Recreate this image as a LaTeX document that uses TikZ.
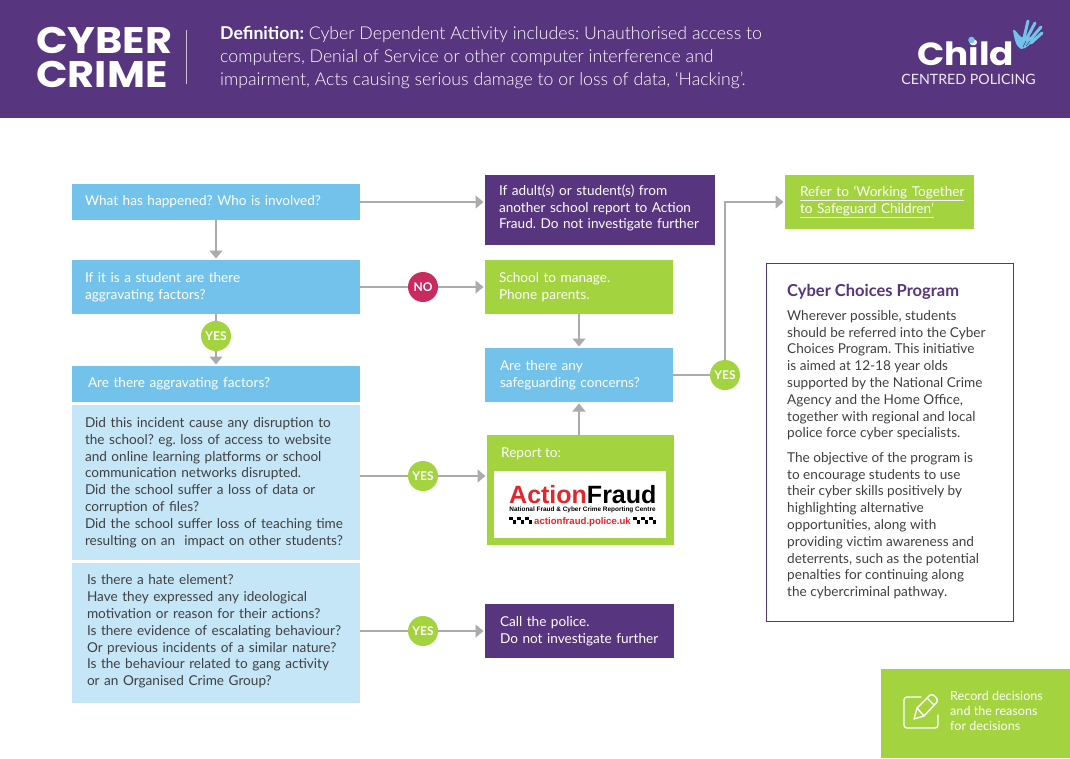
\documentclass[tikz,border=0pt]{standalone}
\usepackage{fontspec}
\setmainfont{Lato}
\newfontfamily\lightfont{Lato Light}
\newfontfamily\headfont[FakeStretch=1.12]{Poppins}
\newfontfamily\fraudfont{Liberation Sans}
\usetikzlibrary{arrows.meta, calc}
\definecolor{cpurple}{HTML}{57357F}
\definecolor{cgreen}{HTML}{A3D33F}
\definecolor{cblue}{HTML}{73C2EC}
\definecolor{cpale}{HTML}{C5E6F7}
\definecolor{cred}{HTML}{C92A5F}
\definecolor{cgrey}{HTML}{ABABAB}
\definecolor{ctext}{HTML}{404040}
\definecolor{cfraud}{HTML}{E1262C}
\tikzset{
	bodyfont/.style={font=\fontsize{13.6}{16.8}\selectfont},
	flowbox/.style n args={3}{anchor=north west, align=left, inner xsep=#3pt, inner ysep=0pt, outer sep=0pt, text width=#1pt-2*#3pt, minimum height=#2pt, bodyfont},
	bluebox/.style n args={3}{flowbox={#1}{#2}{#3}, fill=cblue, text=white},
	palebox/.style n args={3}{flowbox={#1}{#2}{#3}, fill=cpale, text=ctext},
	purplebox/.style n args={3}{flowbox={#1}{#2}{#3}, fill=cpurple, text=white},
	greenbox/.style n args={3}{flowbox={#1}{#2}{#3}, fill=cgreen, text=white},
	answer/.style={circle, minimum size=30pt, inner sep=0pt, text=white, font=\fontsize{12}{12}\selectfont\bfseries},
	flowline/.style={draw=cgrey, line width=1.2pt},
	flowarrow/.style={flowline, -{Triangle[length=8pt, width=13pt]}, shorten >=1.5pt},
}
\begin{document}
\frenchspacing
\begin{tikzpicture}[x=1pt, y=-1pt]
	\useasboundingbox (0,0) rectangle (1070,758);
	\fill[white] (0,0) rectangle (1070,758);
	% header
	\fill[cpurple] (0,0) rectangle (1070,118);
	\node[anchor=base west, inner sep=0pt, text=white, font=\fontsize{37}{37}\selectfont\headfont\bfseries] (titleone) at (36,53) {CYBER};
	\node[anchor=base west, inner sep=0pt, text=white, font=\fontsize{37}{37}\selectfont\headfont\bfseries] (titletwo) at (36,87) {CRIME};
	\draw[white!70!cpurple, line width=0.8pt] (186,30) -- (186,84);
	\node[anchor=north west, align=left, inner sep=0pt, text=white, font=\fontsize{17.7}{23}\selectfont\lightfont] (definition) at (220,26)
		{{\normalfont\bfseries Definition:} Cyber Dependent Activity includes: Unauthorised access to\\computers, Denial of Service or other computer interference and\\impairment, Acts causing serious damage to or loss of data, ‘Hacking’.};
	% logo
	\node[anchor=base west, inner sep=0pt, text=white, font=\fontsize{32}{32}\selectfont\headfont\bfseries] (child) at (917,65) {Child};
	\fill[cblue] (971.5,40) circle[radius=3.3];
	\node[anchor=base, inner sep=0pt, text=white!90!cpurple, font=\fontsize{14.2}{15}\selectfont] (centred) at (968.5,84) {CENTRED POLICING};
	\fill[cblue] (1013,30) .. controls (1016,29) and (1018,35) .. (1021,37) -- (1034,37) .. controls (1032,44) and (1026,49) .. (1021,49) .. controls (1016,47) and (1014,38) .. (1013,30) -- cycle;
	\draw[cblue, line width=3pt, line cap=round] (1024,38) -- (1028,21) (1027,38) -- (1035,23) (1030,40) -- (1041,27) (1031,43) -- (1042,33);
	\draw[cpurple, line width=0.5pt] (1023,47) -- (1026,41) (1026,46) -- (1030,41);
	% left column
	\node[bluebox={288}{36}{13}] (whatbox) at (72,184) {What has happened? Who is involved?};
	\node[bluebox={288}{54}{13}] (aggbox) at (72,260) {If it is a student are there\\aggravating factors?};
	\node[bluebox={288}{36}{16}] (arebox) at (72,366) {Are there aggravating factors?};
	\node[palebox={288}{155}{13}] (disruptbox) at (72,405) {Did this incident cause any disruption to\\the school? eg. loss of access to website\\and online learning platforms or school\\communication networks disrupted.\\Did the school suffer a loss of data or\\corruption of files?\\Did the school suffer loss of teaching time\\resulting on an~~impact on other students?};
	\node[palebox={288}{140}{15}] (hatebox) at (72,563) {Is there a hate element?\\Have they expressed any ideological\\motivation or reason for their actions?\\Is there evidence of escalating behaviour?\\Or previous incidents of a similar nature?\\Is the behaviour related to gang activity\\or an Organised Crime Group?\par\vspace*{3pt}};
	% middle column
	\node[purplebox={230}{70}{14}] (adultbox) at (485,175) {If adult(s) or student(s) from\\another school report to Action\\Fraud. Do not investigate further\par\vspace*{4pt}};
	\node[greenbox={188}{54}{14}] (schoolbox) at (485,260) {School to manage.\\Phone parents.};
	\node[bluebox={188}{54}{15}] (safebox) at (485,348) {Are there any\\safeguarding concerns?};
	\node[greenbox={187}{110}{14}] (reportbox) at (487,435) {};
	\node[anchor=west, inner sep=0pt, text=white, bodyfont] (reportlabel) at (501,454) {Report to:};
	\node[purplebox={189}{54}{15}] (callbox) at (485,604) {Call the police.\\Do not investigate further};
	% action fraud logo
	\fill[white] (494,471) rectangle (666,538);
	\node[anchor=base west, inner sep=0pt, font=\fontsize{25}{26}\selectfont\fraudfont\bfseries] (fraudlogo) at (509,503) {\textcolor{cfraud}{Action}Fraud};
	\node[anchor=base, inner sep=0pt, font=\fontsize{6.45}{7}\selectfont\fraudfont\bfseries] (fraudstrap) at (582.5,511.5) {National Fraud \& Cyber Crime Reporting Centre};
	\node[anchor=base, inner sep=0pt, text=cfraud, font=\fontsize{9.6}{11}\selectfont\fraudfont\bfseries] (fraudurl) at (582.5,524) {actionfraud.police.uk};
	\foreach \ox in {509,633} {
		\foreach \i in {0,1,2} {
			\fill (\ox+\i*8,516.5) rectangle +(3.5,3.5);
			\fill (\ox+3.5+\i*8,520) rectangle +(3.5,3.5);
		}
	}
	% right column
	\node[greenbox={189}{54}{15}] (referbox) at (785,175) {\underline{Refer to ‘Working Together}\\\underline{to Safeguard Children’}};
	\node[draw=cpurple, line width=1.3pt, anchor=north west, minimum width=247pt, minimum height=358pt, inner sep=0pt] (choicesbox) at (766,263) {};
	\node[anchor=west, inner sep=0pt, text=cpurple, font=\fontsize{16.5}{18}\selectfont\bfseries] (choicestitle) at (787,292) {Cyber Choices Program};
	\node[anchor=north west, align=left, inner sep=0pt, text=ctext, bodyfont] (choicesone) at (787,310)
		{Wherever possible, students\\should be referred into the Cyber\\Choices Program. This initiative\\is aimed at 12-18 year olds\\supported by the National Crime\\Agency and the Home Office,\\together with regional and local\\police force cyber specialists.};
	\node[anchor=north west, align=left, inner sep=0pt, text=ctext, bodyfont] (choicestwo) at (787,452)
		{The objective of the program is\\to encourage students to use\\their cyber skills positively by\\highlighting alternative\\opportunities, along with\\providing victim awareness and\\deterrents, such as the potential\\penalties for continuing along\\the cybercriminal pathway.};
	% record decisions
	\fill[cgreen] (881,669) rectangle (1070,758);
	\node[anchor=north west, align=left, inner sep=0pt, text=white, font=\fontsize{12.6}{15}\selectfont] (recordlabel) at (950,691) {Record decisions\\and the reasons\\for decisions};
	\draw[white, line width=1.4pt, rounded corners=3pt, line cap=round] (921,697) -- (904,697) -- (904,728) -- (938,728) -- (938,715);
	\draw[white, line width=1.4pt, line join=round] (914,719) -- (917,708) -- (930,695) .. controls (933,693) and (939,699) .. (937,702) -- (924,716) -- cycle (917,708) -- (924,716) (927,698) -- (934,705);
	% answer circles
	\node[answer, fill=cgreen] (yesone) at (216,336) {YES};
	\node[answer, fill=cred] (noone) at (423,287) {NO};
	\node[answer, fill=cgreen] (yestwo) at (423,476) {YES};
	\node[answer, fill=cgreen] (yesthree) at (423,631) {YES};
	\node[answer, fill=cgreen] (yesfour) at (725,375) {YES};
	\coordinate (elbow) at (yesfour |- whatbox.east);
	% connectors
	\draw[flowarrow] (whatbox.east) -- (whatbox.east -| adultbox.west);
	\draw[flowarrow] (whatbox.south) -- (aggbox.north);
	\draw[flowline] (aggbox.south) -- (yesone.north);
	\draw[flowarrow] (yesone.south) -- (arebox.north);
	\draw[flowline] (aggbox.east) -- (noone.west);
	\draw[flowarrow] (noone.east) -- (schoolbox.west);
	\draw[flowline] (disruptbox.east |- yestwo) -- (yestwo.west);
	\draw[flowarrow] (yestwo.east) -- (yestwo.east -| reportbox.west);
	\draw[flowline] (hatebox.east |- yesthree) -- (yesthree.west);
	\draw[flowarrow] (yesthree.east) -- (yesthree.east -| callbox.west);
	\draw[flowarrow] (schoolbox.south) -- (safebox.north);
	\draw[flowarrow] (reportbox.north -| safebox.south) -- (safebox.south);
	\draw[flowline] (safebox.east) -- (yesfour.west);
	\draw[flowarrow] (yesfour.north) -- (elbow) -- (elbow -| referbox.west);
\end{tikzpicture}
\end{document}
